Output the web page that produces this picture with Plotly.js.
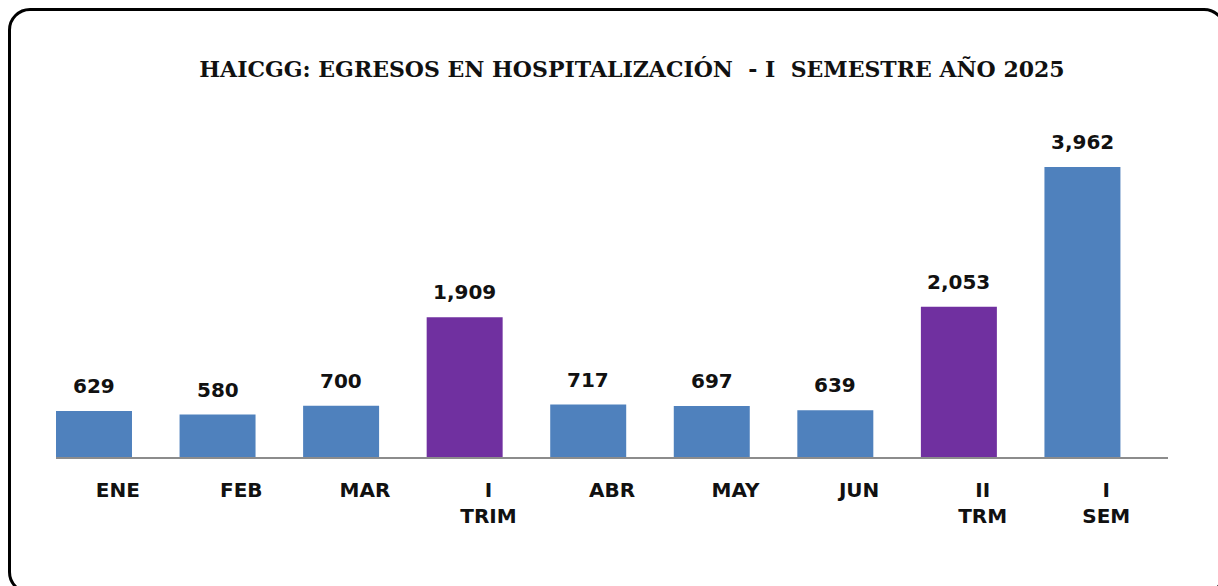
<!DOCTYPE html>
<html>
<head>
<meta charset="utf-8">
<script src="https://cdn.plot.ly/plotly-3.0.1.min.js"></script>
<style>
  html, body { margin: 0; padding: 0; background: #fff; overflow: hidden; }
  #wrap { position: relative; width: 1218px; height: 586px; overflow: hidden; }
  #chart { position: absolute; left: 0; top: 0; width: 1218px; height: 586px; }
  #frame { position: absolute; left: 8px; top: 8px; width: 1218px; height: 586px;
           border: 3.5px solid #000; border-radius: 22px; pointer-events: none; box-sizing: border-box; }
</style>
</head>
<body>
<div id="wrap">
  <div id="chart"></div>
  <div id="frame"></div>
</div>
<script>
// Data
const categories = ["ENE", "FEB", "MAR", "I<br>TRIM", "ABR", "MAY", "JUN", "II<br>TRM", "I<br>SEM"];
const values = [629, 580, 700, 1909, 717, 697, 639, 2053, 3962];
const barKinds = ["mes", "mes", "mes", "trim", "mes", "mes", "mes", "trim", "sem"];
const titleText = "HAICGG: EGRESOS EN HOSPITALIZACIÓN&nbsp; - I&nbsp; SEMESTRE AÑO 2025";

// Styles
const kindColor = { mes: "#4F81BD", trim: "#7030A0", sem: "#4F81BD" };
const barWidth = 0.615;
const barOffset = -0.5;
const labelFont = { family: "DejaVu Sans", size: 20, color: "#111", weight: "bold" };

const xs = categories.map((_, i) => i);

const trace = {
  type: "bar",
  x: xs,
  y: values,
  width: barWidth,
  offset: barOffset,
  marker: { color: barKinds.map(k => kindColor[k]), line: { width: 0 } },
  hoverinfo: "skip"
};

const annotations = values.map((v, i) => ({
  x: i + barOffset + barWidth / 2,
  y: v,
  xref: "x", yref: "y",
  text: v.toLocaleString("en-US"),
  showarrow: false,
  xanchor: "center",
  yanchor: "middle",
  yshift: 25,
  font: labelFont
}));

const layout = {
  width: 1218,
  height: 586,
  margin: { l: 56, r: 50, t: 100, b: 129 },
  paper_bgcolor: "#fff",
  plot_bgcolor: "#fff",
  showlegend: false,
  title: {
    text: titleText,
    x: 632 / 1218,
    xref: "container",
    xanchor: "center",
    y: 1 - 69 / 586,
    yref: "container",
    yanchor: "middle",
    font: { family: "DejaVu Serif", size: 22, color: "#111", weight: "bold" }
  },
  xaxis: {
    range: [-0.5, 8.5],
    tickmode: "array",
    tickvals: xs,
    ticktext: categories,
    ticks: "",
    showgrid: false,
    zeroline: false,
    showline: true,
    linecolor: "#8C8C8C",
    linewidth: 2,
    tickfont: labelFont,
    ticklabelstandoff: 14,
    fixedrange: true
  },
  yaxis: {
    range: [0, 4877],
    visible: false,
    showgrid: false,
    zeroline: false,
    fixedrange: true
  },
  annotations: annotations
};

Plotly.newPlot("chart", [trace], layout, { displayModeBar: false, staticPlot: true });
</script>
</body>
</html>
